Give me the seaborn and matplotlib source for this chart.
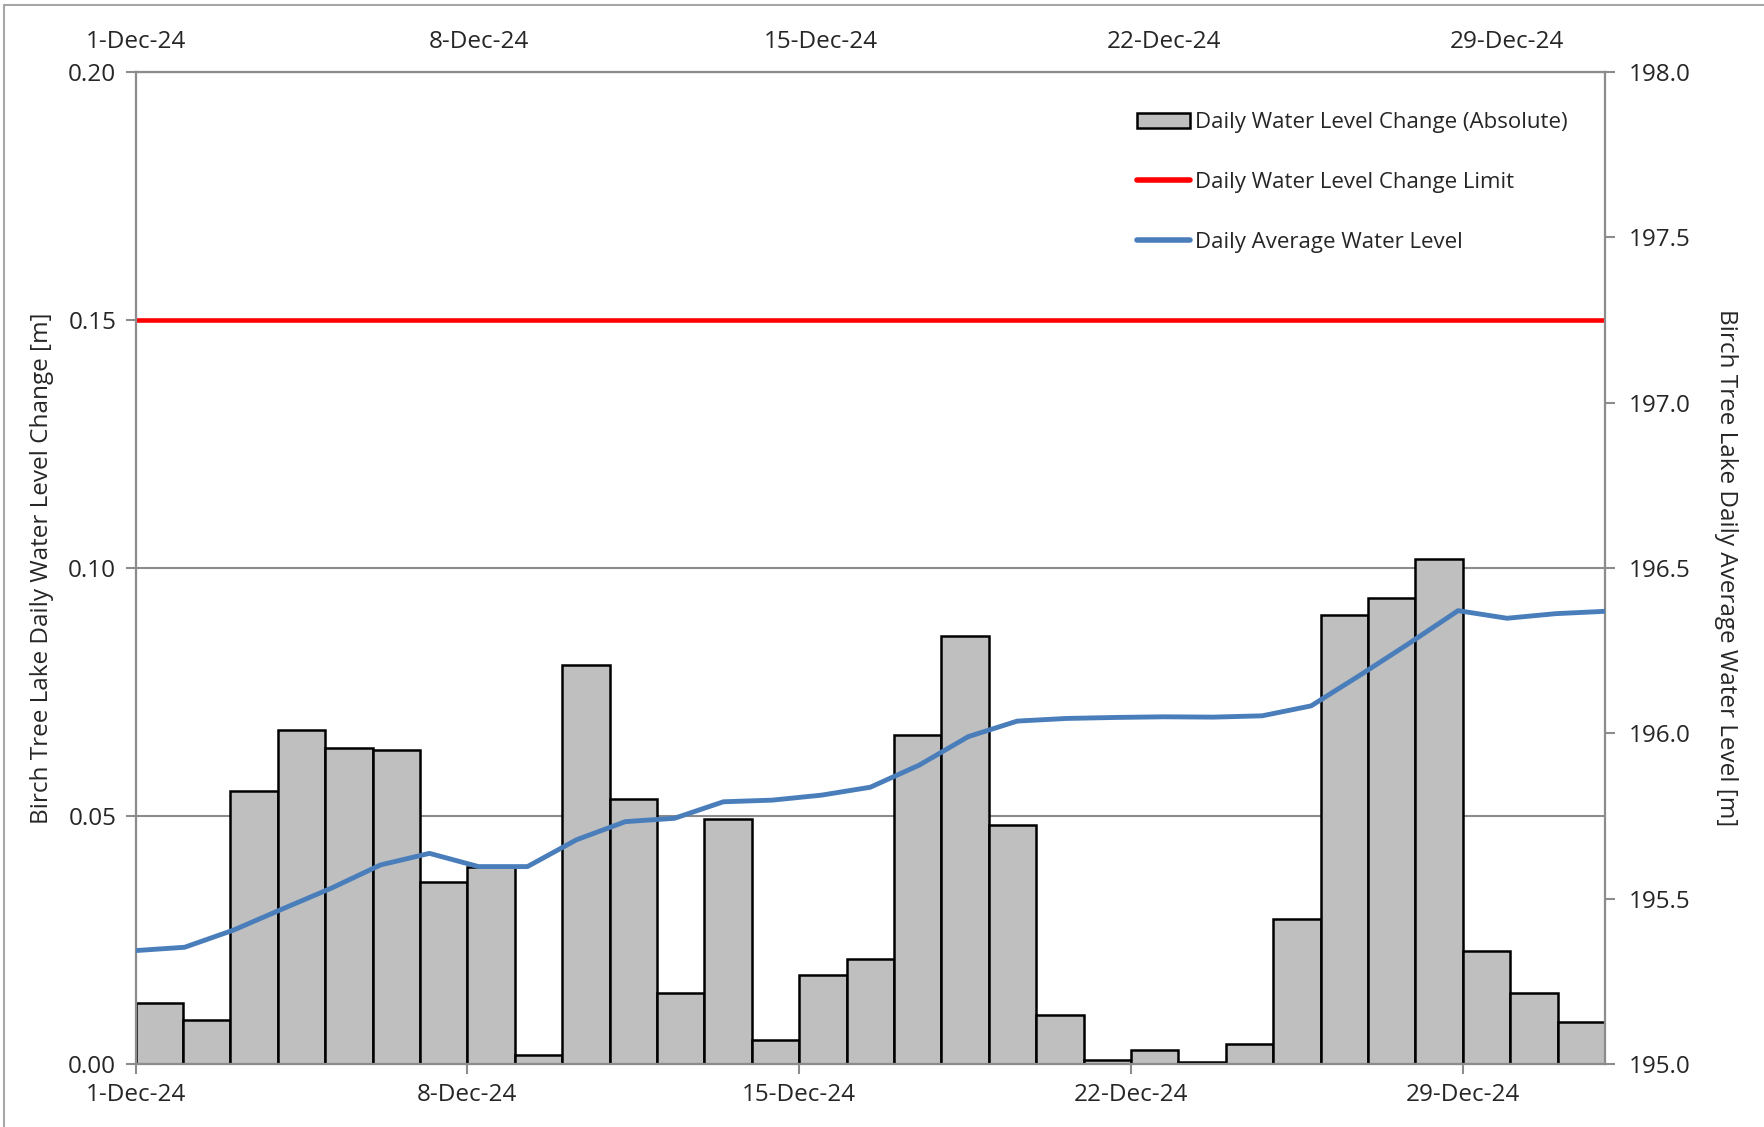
import matplotlib
matplotlib.use("Agg")
import matplotlib.pyplot as plt
import matplotlib.lines as mlines
import matplotlib.patches as mpatches
import seaborn as sns
import numpy as np
import pandas as pd

# ---------------- data ----------------
dates = pd.date_range("2024-12-01", "2024-12-31", freq="D")
day_labels = [d.strftime("%-d-%b-%y") for d in dates]

daily_change = [0.0122, 0.0088, 0.0550, 0.0674, 0.0638, 0.0633, 0.0366, 0.0397,
                0.0018, 0.0805, 0.0535, 0.0143, 0.0494, 0.0048, 0.0180, 0.0211,
                0.0664, 0.0862, 0.0482, 0.0098, 0.0008, 0.0028, 0.0005, 0.0041,
                0.0293, 0.0906, 0.0939, 0.1018, 0.0228, 0.0143, 0.0085]

daily_level = [195.343, 195.353, 195.405, 195.469, 195.532, 195.602, 195.637, 195.597,
               195.597, 195.678, 195.733, 195.743, 195.793, 195.798, 195.813, 195.837,
               195.904, 195.990, 196.037, 196.045, 196.048, 196.050, 196.049, 196.053,
               196.083, 196.176, 196.272, 196.371, 196.348, 196.362, 196.369]

change_limit = 0.15
tick_days = [1, 8, 15, 22, 29]
tick_labels = ["1-Dec-24", "8-Dec-24", "15-Dec-24", "22-Dec-24", "29-Dec-24"]
left_ticks = [0.00, 0.05, 0.10, 0.15, 0.20]
right_ticks = [195.0, 195.5, 196.0, 196.5, 197.0, 197.5, 198.0]

df = pd.DataFrame({"day": np.arange(1, 32), "label": day_labels,
                   "change": daily_change, "level": daily_level})

# ---------------- style ----------------
sns.set_theme(style="white")
plt.rcParams["font.family"] = ["Open Sans", "DejaVu Sans"]
FS = 17.5
FS_LEG = 16
GRAY = "#8C8C8C"
BAR = "#BFBFBF"
BLUE = "#4A7EBB"

fig = plt.figure(figsize=(17.64, 11.27), dpi=100)
ax = fig.add_axes([135.6 / 1764, 1 - 1064 / 1127, (1605 - 135.6) / 1764, (1064 - 72) / 1127])

# bars (categorical positions 0..30, width 1 -> fills each day)
sns.barplot(data=df, x="label", y="change", ax=ax, color=BAR, saturation=1,
            edgecolor="black", linewidth=1.8, width=1.0, order=day_labels, zorder=2)
ax.set_xlim(-0.5, 30.5)
ax.set_ylim(0, 0.20)
ax.set_yticks(left_ticks)
ax.set_yticklabels([f"{v:.2f}" for v in left_ticks], fontsize=FS)
ax.set_xticks([d - 1.5 for d in tick_days])
ax.set_xticklabels(tick_labels, fontsize=FS)
ax.yaxis.grid(True, color=GRAY, linewidth=1.5, zorder=0)
ax.set_axisbelow(True)
ax.axhline(change_limit, color="#FF0000", linewidth=3.3, zorder=3)
ax.set_xlabel("")
ax.set_ylabel("Birch Tree Lake Daily Water Level Change [m]", fontsize=FS, labelpad=10)
ax.tick_params(axis="both", which="major", direction="out", length=7, width=1.5,
               color=GRAY, pad=7, bottom=True, left=True)
for s in ax.spines.values():
    s.set_color(GRAY)
    s.set_linewidth(1.5)

# secondary y
ax2 = ax.twinx()
ax2.set_ylim(195.0, 198.0)
ax2.set_yticks(right_ticks)
ax2.set_yticklabels([f"{v:.1f}" for v in right_ticks], fontsize=FS)
ax2.tick_params(axis="y", direction="out", length=7, width=1.5, color=GRAY, pad=10, right=True)
ax2.set_ylabel("Birch Tree Lake Daily Average Water Level [m]", fontsize=FS,
               rotation=270, labelpad=34)
for s in ax2.spines.values():
    s.set_color(GRAY)
    s.set_linewidth(1.5)
ax2.grid(False)

# secondary x (top) for the line
ax3 = ax2.twiny()
sns.lineplot(data=df, x="day", y="level", ax=ax3, color=BLUE, linewidth=3.5, zorder=4)
ax3.set_xlim(1, 31)
ax3.set_ylim(195.0, 198.0)
ax3.set_xticks(tick_days)
ax3.set_xticklabels(tick_labels, fontsize=FS)
ax3.tick_params(axis="x", length=0, pad=13, top=True)
ax3.set_xlabel("")
ax3.set_ylabel("")
ax3.grid(False)
for s in ax3.spines.values():
    s.set_color(GRAY)
    s.set_linewidth(1.5)

# legend
h1 = mpatches.Patch(facecolor=BAR, edgecolor="black", linewidth=1.8,
                    label="Daily Water Level Change (Absolute)")
h2 = mlines.Line2D([], [], color="#FF0000", linewidth=4, solid_capstyle="round",
                   label="Daily Water Level Change Limit")
h3 = mlines.Line2D([], [], color=BLUE, linewidth=4, solid_capstyle="round",
                   label="Daily Average Water Level")
leg = ax3.legend(handles=[h1, h2, h3], loc="upper right", bbox_to_anchor=(0.985, 0.975),
                 frameon=False, fontsize=FS_LEG, handlelength=2.4, handletextpad=0.2,
                 labelspacing=1.75, borderaxespad=0.3)

# outer frame lines (top and left visible)
fig.add_artist(mlines.Line2D([4 / 1764, 4 / 1764], [0, 1 - 5 / 1127], color="#A6A6A6",
                             linewidth=1.5, transform=fig.transFigure))
fig.add_artist(mlines.Line2D([4 / 1764, 1], [1 - 5 / 1127, 1 - 5 / 1127], color="#A6A6A6",
                             linewidth=1.5, transform=fig.transFigure))

fig.savefig("out.png", dpi=100)
